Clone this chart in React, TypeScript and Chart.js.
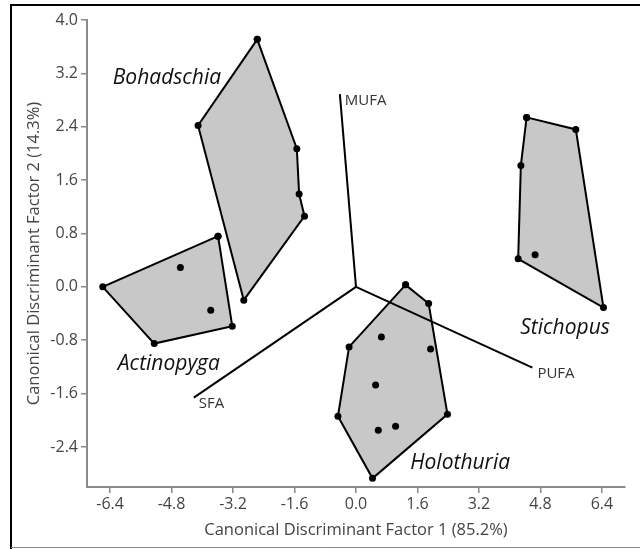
import React, { useEffect, useRef } from "react";
import { Chart, registerables } from "chart.js";

Chart.register(...registerables);

type P = { x: number; y: number };

// Axis ticks
const xTickValues = [-6.4, -4.8, -3.2, -1.6, 0, 1.6, 3.2, 4.8, 6.4];
const xTickLabels = ["-6.4", "-4.8", "-3.2", "-1.6", "0.0", "1.6", "3.2", "4.8", "6.4"];
const yTickValues = [-2.4, -1.6, -0.8, 0, 0.8, 1.6, 2.4, 3.2, 4.0];
const yTickLabels = ["-2.4", "-1.6", "-0.8", "0.0", "0.8", "1.6", "2.4", "3.2", "4.0"];

// Group hulls (convex hull vertices) and interior points
const bohadschiaHull: P[] = [
  { x: -2.57, y: 3.71 },
  { x: -1.54, y: 2.07 },
  { x: -1.48, y: 1.39 },
  { x: -1.34, y: 1.06 },
  { x: -2.92, y: -0.2 },
  { x: -4.11, y: 2.42 },
];
const bohadschiaInner: P[] = [];

const actinopygaHull: P[] = [
  { x: -3.59, y: 0.76 },
  { x: -3.22, y: -0.59 },
  { x: -5.25, y: -0.85 },
  { x: -6.59, y: 0.0 },
];
const actinopygaInner: P[] = [
  { x: -4.57, y: 0.29 },
  { x: -3.78, y: -0.35 },
];

const stichopusHull: P[] = [
  { x: 4.44, y: 2.54 },
  { x: 5.72, y: 2.36 },
  { x: 6.44, y: -0.31 },
  { x: 4.22, y: 0.42 },
  { x: 4.29, y: 1.82 },
];
const stichopusInner: P[] = [{ x: 4.66, y: 0.48 }];

const holothuriaHull: P[] = [
  { x: 1.29, y: 0.03 },
  { x: 1.89, y: -0.25 },
  { x: 2.38, y: -1.91 },
  { x: 0.43, y: -2.87 },
  { x: -0.47, y: -1.94 },
  { x: -0.18, y: -0.9 },
];
const holothuriaInner: P[] = [
  { x: 1.94, y: -0.93 },
  { x: 0.66, y: -0.75 },
  { x: 0.51, y: -1.47 },
  { x: 0.58, y: -2.15 },
  { x: 1.03, y: -2.09 },
];

// Structure vectors (from origin)
const vectorNames = ["MUFA", "PUFA", "SFA"];
const vectorEnds: P[] = [
  { x: -0.42, y: 2.89 },
  { x: 4.59, y: -1.21 },
  { x: -4.22, y: -1.66 },
];

// Group labels (anchor in data units)
const speciesNames = ["Bohadschia", "Actinopyga", "Stichopus", "Holothuria"];
const speciesLabelAt: P[] = [
  { x: -4.92, y: 3.13 },
  { x: -4.87, y: -1.15 },
  { x: 5.44, y: -0.61 },
  { x: 2.71, y: -2.64 },
];

const xTitle = "Canonical Discriminant Factor 1 (85.2%)";
const yTitle = "Canonical Discriminant Factor 2 (14.3%)";

const FONT = "'Open Sans', 'Noto Sans', sans-serif";
const AXIS_GRAY = "#8a8a8a";
const TEXT_GRAY = "#444444";
const HULL_FILL = "#c8c8c8";

const hulls = [bohadschiaHull, actinopygaHull, stichopusHull, holothuriaHull];
const inners = [bohadschiaInner, actinopygaInner, stichopusInner, holothuriaInner];

const hullFillPlugin = {
  id: "hullFill",
  beforeDatasetsDraw(chart: any) {
    const ctx = chart.ctx;
    chart.data.datasets.forEach((ds: any, i: number) => {
      if (!ds.isHull) return;
      const meta = chart.getDatasetMeta(i);
      const pts = meta.data;
      if (!pts.length) return;
      ctx.save();
      ctx.beginPath();
      pts.forEach((p: any, k: number) => {
        if (k === 0) ctx.moveTo(p.x, p.y);
        else ctx.lineTo(p.x, p.y);
      });
      ctx.closePath();
      ctx.fillStyle = HULL_FILL;
      ctx.fill();
      ctx.restore();
    });
  },
};

const labelsPlugin = {
  id: "labels",
  afterDatasetsDraw(chart: any) {
    const ctx = chart.ctx;
    const xs = chart.scales.x;
    const ys = chart.scales.y;
    ctx.save();
    // vector labels
    ctx.font = `15px ${FONT}`;
    ctx.fillStyle = "#333";
    ctx.textAlign = "left";
    ctx.textBaseline = "top";
    vectorNames.forEach((n, i) => {
      const px = xs.getPixelForValue(vectorEnds[i].x);
      const py = ys.getPixelForValue(vectorEnds[i].y);
      ctx.fillText(n, px + 5, py - 1);
    });
    // species labels
    ctx.font = `italic 21px ${FONT}`;
    ctx.fillStyle = "#111";
    ctx.textAlign = "center";
    ctx.textBaseline = "middle";
    speciesNames.forEach((n, i) => {
      const px = xs.getPixelForValue(speciesLabelAt[i].x);
      const py = ys.getPixelForValue(speciesLabelAt[i].y);
      ctx.fillText(n, px, py);
    });
    ctx.restore();
  },
  afterDraw(chart: any) {
    const ctx = chart.ctx;
    ctx.save();
    ctx.strokeStyle = "#000";
    ctx.lineWidth = 2;
    ctx.beginPath();
    ctx.moveTo(11, 549);
    ctx.lineTo(11, 5);
    ctx.lineTo(640, 5);
    ctx.stroke();
    ctx.strokeStyle = "#888";
    ctx.lineWidth = 1;
    ctx.beginPath();
    ctx.moveTo(11, 547.5);
    ctx.lineTo(640, 547.5);
    ctx.stroke();
    ctx.restore();
  },
};

export default function App() {
  const ref = useRef<HTMLCanvasElement | null>(null);

  useEffect(() => {
    if (!ref.current) return;
    const datasets: any[] = [];
    hulls.forEach((h) => {
      datasets.push({
        isHull: true,
        data: [...h, h[0]],
        showLine: true,
        borderColor: "#000",
        borderWidth: 2,
        pointRadius: 3.5,
        pointBackgroundColor: "#000",
        pointBorderWidth: 0,
        tension: 0,
        fill: false,
      });
    });
    inners.forEach((pts) => {
      datasets.push({
        data: pts,
        showLine: false,
        pointRadius: 3.5,
        pointBackgroundColor: "#000",
        pointBorderWidth: 0,
      });
    });
    vectorEnds.forEach((e) => {
      datasets.push({
        data: [{ x: 0, y: 0 }, e],
        showLine: true,
        borderColor: "#000",
        borderWidth: 2,
        pointRadius: 0,
        fill: false,
      });
    });

    const chart = new Chart(ref.current, {
      type: "scatter",
      data: { datasets },
      plugins: [hullFillPlugin, labelsPlugin],
      options: {
        animation: false,
        responsive: false,
        layout: { padding: { left: 12, right: 15, top: 20, bottom: 8 } },
        plugins: {
          legend: { display: false },
          tooltip: { enabled: false },
        },
        scales: {
          x: {
            type: "linear",
            min: -7,
            max: 7,
            afterBuildTicks: (s: any) => {
              s.ticks = xTickValues.map((v) => ({ value: v }));
            },
            afterFit: (s: any) => {
              s.height = 54;
            },
            ticks: {
              callback: (_v: any, i: number) => xTickLabels[i],
              font: { family: FONT, size: 16 },
              color: TEXT_GRAY,
              padding: 2,
              maxRotation: 0,
            },
            grid: {
              drawOnChartArea: false,
              drawTicks: true,
              tickLength: 6,
              color: AXIS_GRAY,
              lineWidth: 1.5,
            },
            border: { display: true, color: AXIS_GRAY, width: 2 },
            title: {
              display: true,
              text: xTitle,
              font: { family: FONT, size: 16.5 },
              color: TEXT_GRAY,
              padding: { top: 2, bottom: 1 },
            },
          },
          y: {
            type: "linear",
            min: -3,
            max: 4,
            afterBuildTicks: (s: any) => {
              s.ticks = yTickValues.map((v) => ({ value: v }));
            },
            afterFit: (s: any) => {
              s.width = 75;
            },
            ticks: {
              callback: (_v: any, i: number) => yTickLabels[i],
              font: { family: FONT, size: 16 },
              color: TEXT_GRAY,
              padding: 3,
            },
            grid: {
              drawOnChartArea: false,
              drawTicks: true,
              tickLength: 6,
              color: AXIS_GRAY,
              lineWidth: 1.5,
            },
            border: { display: true, color: AXIS_GRAY, width: 2 },
            title: {
              display: true,
              text: yTitle,
              font: { family: FONT, size: 16.5 },
              color: TEXT_GRAY,
              padding: { top: 12, bottom: 2 },
            },
          },
        },
      },
    });
    return () => chart.destroy();
  }, []);

  return (
    <div style={{ position: "fixed", left: 0, top: 0, width: 640, height: 549, background: "#fff" }}>
      <canvas ref={ref} width={640} height={549} style={{ display: "block" }} />
    </div>
  );
}
